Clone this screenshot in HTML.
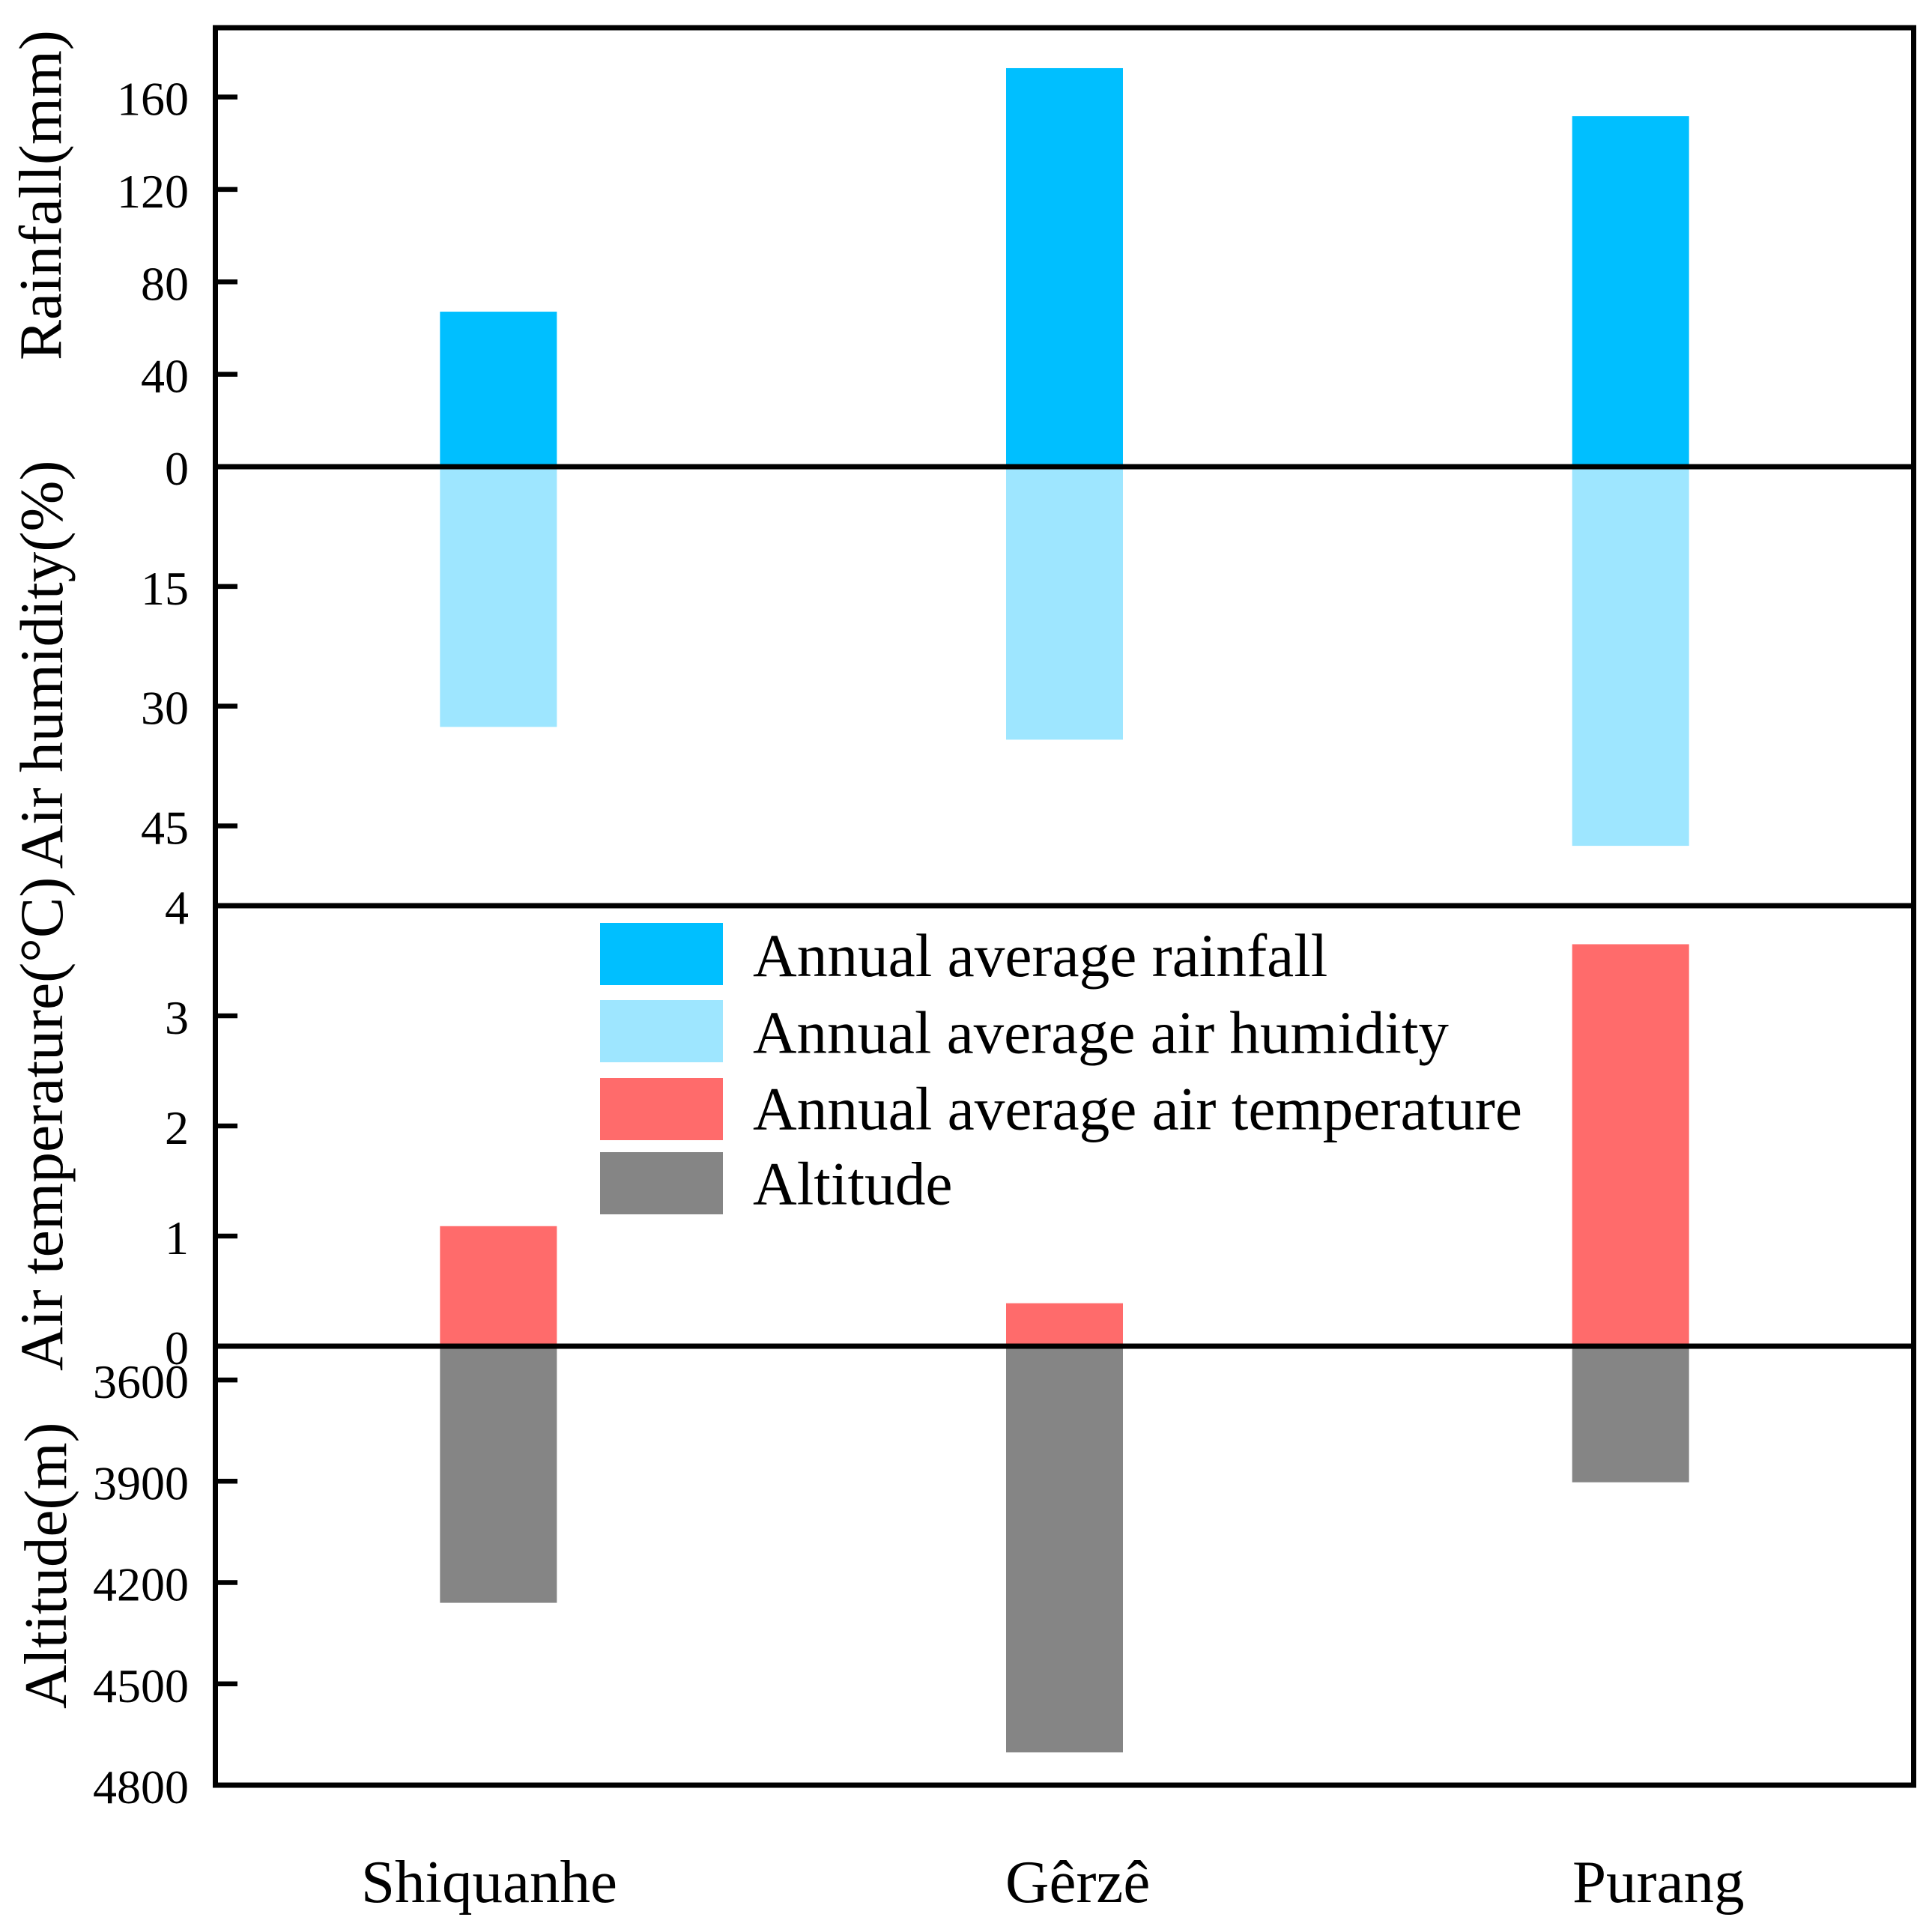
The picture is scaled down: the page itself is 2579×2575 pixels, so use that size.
<!DOCTYPE html>
<html lang="en">
<head>
<meta charset="utf-8">
<title>Climate and altitude by station</title>
<style>
html,body{margin:0;padding:0;background:#fff;}
svg{display:block;}
text{font-family:"Liberation Serif",serif;fill:#000;}
</style>
</head>
<body>
<svg id="chart" xmlns="http://www.w3.org/2000/svg" width="2579" height="2575" viewBox="0 0 2579 2575"></svg>
<script>
const stations = ["Shiquanhe", "Gêrzê", "Purang"];
const rainfall = [67.1, 172.5, 151.7];
const humidity = [32.6, 34.2, 47.5];
const temperature = [1.09, 0.39, 3.65];
const altitude = [4260, 4703, 3903];
const rainfallTicks = [0, 40, 80, 120, 160];
const humidityTicks = [15, 30, 45];
const temperatureTicks = [0, 1, 2, 3, 4];
const altitudeTicks = [3600, 3900, 4200, 4500, 4800];
const legendLabels = ["Annual average rainfall", "Annual average air humidity", "Annual average air temperature", "Altitude"];

const NS = "http://www.w3.org/2000/svg";
const svg = document.getElementById("chart");
const LEFT = 287.5, RIGHT = 2554.5;
const ROWS = {top: 37, a: 623, b: 1209, c: 1797, bottom: 2383};
const COLORS = {rain: "#00BFFF", humid: "#9EE6FF", temp: "#FF6B6B", alt: "#858585"};

function linear(d0, d1, r0, r1) {
  return function (v) { return r0 + (v - d0) * (r1 - r0) / (d1 - d0); };
}
const yRain = linear(0, 190, ROWS.a, ROWS.top);
const yHumid = linear(0, 55, ROWS.a, ROWS.b);
const yTemp = linear(0, 4, ROWS.c, ROWS.b);
const yAlt = linear(3500, 4800, ROWS.c, ROWS.bottom);
const BAND = (RIGHT - LEFT) / stations.length;
const BAR_W = 156;
function xCenter(i) { return LEFT + BAND * (i + 0.5); }

function node(tag, props, parent) {
  const el = document.createElementNS(NS, tag);
  for (const k in props) el.setAttribute(k, props[k]);
  (parent || svg).appendChild(el);
  return el;
}

function drawBars(values, yScale, base, color, name) {
  values.forEach(function (v, i) {
    const y0 = yScale(base), y1 = yScale(v);
    const r = node("rect", {x: xCenter(i) - BAR_W / 2, y: Math.min(y0, y1), width: BAR_W, height: Math.abs(y1 - y0), fill: color});
    
    
  });
}

function drawTicks(values, yScale, name) {
  values.forEach(function (v) {
    const y = yScale(v);
    const t = node("line", {x1: LEFT, x2: 317, y1: y, y2: y, stroke: "#000", "stroke-width": 6.5});
    
    
    const l = node("text", {x: 252, y: y + 24, "text-anchor": "end", "font-size": 64});
    l.textContent = String(v);
    
    
  });
}

function axisTitle(label, baselineX, bottomY, size, name) {
  const t = node("text", {x: 0, y: 0, "font-size": size, transform: "translate(" + baselineX + "," + bottomY + ") rotate(-90)"});
  t.textContent = label;
  
  
}

drawBars(rainfall, yRain, 0, COLORS.rain, 'rainfall');
drawBars(humidity, yHumid, 0, COLORS.humid, 'humidity');
drawBars(temperature, yTemp, 0, COLORS.temp, 'temperature');
drawBars(altitude, yAlt, 3500, COLORS.alt, 'altitude');

drawTicks(rainfallTicks, yRain, 'rainfall');
drawTicks(humidityTicks, yHumid, 'humidity');
drawTicks(temperatureTicks, yTemp, 'temperature');
drawTicks(altitudeTicks, yAlt, 'altitude');

const frame = node("rect", {x: LEFT, y: ROWS.top, width: RIGHT - LEFT, height: ROWS.bottom - ROWS.top, fill: "none", stroke: "#000", "stroke-width": 7});



[ROWS.a, ROWS.b, ROWS.c].forEach(function (y, i) {
  const d = node("line", {x1: LEFT, x2: RIGHT, y1: y, y2: y, stroke: "#000", "stroke-width": 7});
  
  
});

axisTitle("Rainfall(mm)", 81, 481, 81, 'rainfall-axis-title');
axisTitle("Air humidity(%)", 83, 1160, 81.5, 'humidity-axis-title');
axisTitle("Air temperature(°C)", 83, 1830, 81.5, 'temperature-axis-title');
axisTitle("Altitude(m)", 88, 2281, 81, 'altitude-axis-title');

const categoryStart = [482, 1342, 2099];
stations.forEach(function (s, i) {
  const t = node("text", {x: categoryStart[i], y: 2539, "font-size": 81});
  t.textContent = s;
  
  
});

const legendColors = [COLORS.rain, COLORS.humid, COLORS.temp, COLORS.alt];
const legendTop = [1232, 1335, 1439, 1538];
const legendBaseline = [1303, 1405.5, 1507.5, 1607.5];
const legendFontSize = [81.3, 81, 81.3, 81.3];
legendLabels.forEach(function (label, i) {
  const s = node("rect", {x: 801, y: legendTop[i], width: 164, height: 83, fill: legendColors[i]});
  
  
  const t = node("text", {x: 1005, y: legendBaseline[i], "font-size": legendFontSize[i]});
  t.textContent = label;
  
  
});
</script>
</body>
</html>
